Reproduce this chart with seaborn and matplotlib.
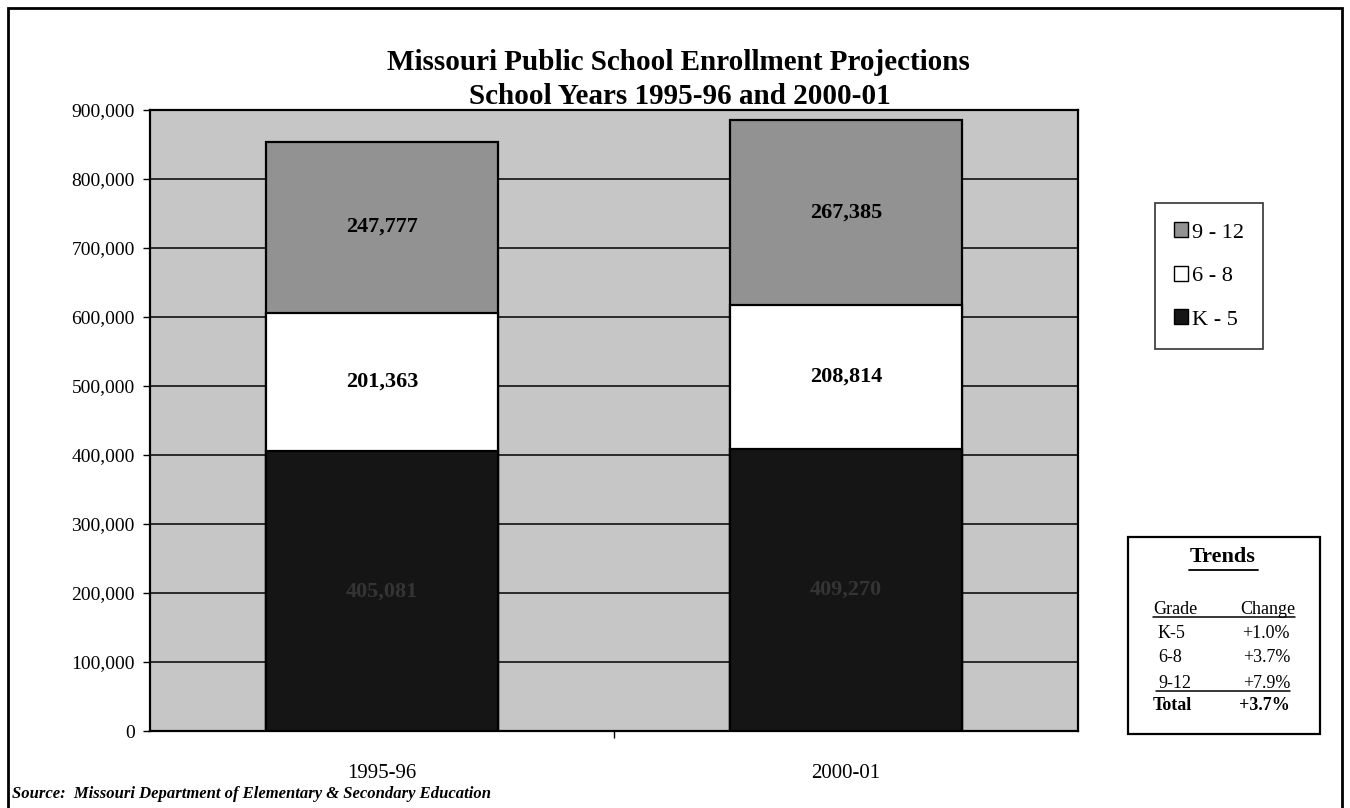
import matplotlib
matplotlib.use("Agg")
import matplotlib.pyplot as plt
import seaborn as sns
import pandas as pd
from matplotlib.patches import Rectangle, Patch
from matplotlib.lines import Line2D
from matplotlib.ticker import FuncFormatter, MultipleLocator

# Enrollment by grade band
years = ["1995-96", "2000-01"]
k5 = [405081, 409270]
g6_8 = [201363, 208814]
g9_12 = [247777, 267385]

trend_grades = ["K-5", "6-8", "9-12"]
trend_changes = ["+1.0%", "+3.7%", "+7.9%"]
trend_total = "+3.7%"

sns.set_theme(style="white")
plt.rcParams["font.family"] = ["Liberation Serif", "DejaVu Serif"]
plt.rcParams["text.color"] = "black"
plt.rcParams["xtick.color"] = "black"
plt.rcParams["ytick.color"] = "black"

BG = "#c6c6c6"
C_912 = "#929292"
C_68 = "#ffffff"
C_K5 = "#151515"

df = pd.DataFrame({"year": years, "k5": k5, "g6_8": g6_8, "g9_12": g9_12})
df["lvl1"] = df["k5"]
df["lvl2"] = df["k5"] + df["g6_8"]
df["lvl3"] = df["lvl2"] + df["g9_12"]

W, H = 1350, 808
fig = plt.figure(figsize=(W / 100, H / 100), dpi=100)
ax = fig.add_axes([150 / W, 1 - 731 / H, (1078 - 150) / W, (731 - 110) / H])
ax.set_facecolor(BG)

# stacked bars: draw cumulative totals from the top layer down
for col, color in [("lvl3", C_912), ("lvl2", C_68), ("lvl1", C_K5)]:
    sns.barplot(data=df, x="year", y=col, color=color, width=0.5,
                edgecolor="black", linewidth=1.6, saturation=1, ax=ax, zorder=3)

ax.set_ylim(0, 900000)
ax.set_xlim(-0.5, 1.5)
ax.yaxis.set_major_locator(MultipleLocator(100000))
ax.yaxis.set_major_formatter(FuncFormatter(lambda v, p: f"{int(v):,}"))
ax.grid(axis="y", color="black", linewidth=1.1, zorder=0)
ax.set_axisbelow(True)
ax.set_xlabel("")
ax.set_ylabel("")
for s in ax.spines.values():
    s.set_color("black")
    s.set_linewidth(1.6)
ax.tick_params(axis="y", which="major", left=True, length=5, width=1, color="black",
               labelsize=14, pad=6, labelcolor="black")
ax.tick_params(axis="x", which="major", length=0, labelsize=15, pad=24, labelcolor="black")
ax.set_xticks([0.5], minor=True)
ax.tick_params(axis="x", which="minor", bottom=True, length=5, width=1, color="black")

# segment value labels
for i in range(len(years)):
    ax.text(i, df["lvl2"][i] + df["g9_12"][i] / 2, f"{df['g9_12'][i]:,}",
            ha="center", va="center", fontsize=16, fontweight="bold", color="black", zorder=5)
    ax.text(i, df["lvl1"][i] + df["g6_8"][i] / 2, f"{df['g6_8'][i]:,}",
            ha="center", va="center", fontsize=16, fontweight="bold", color="black", zorder=5)
    ax.text(i, df["k5"][i] / 2, f"{df['k5'][i]:,}",
            ha="center", va="center", fontsize=16, fontweight="bold", color="#343434", zorder=5)

# title
fig.text(678 / W, 1 - 62 / H, "Missouri Public School Enrollment Projections",
         ha="center", va="center", fontsize=21, fontweight="bold")
fig.text(680 / W, 1 - 97 / H, "School Years 1995-96 and 2000-01",
         ha="center", va="center", fontsize=21, fontweight="bold")

# legend
handles = [Patch(facecolor=C_912, edgecolor="black", label="9 - 12"),
           Patch(facecolor=C_68, edgecolor="black", label="6 - 8"),
           Patch(facecolor=C_K5, edgecolor="black", label="K - 5")]
leg = fig.legend(handles=handles, loc="center", bbox_to_anchor=(1209 / W, 1 - 276 / H),
                 frameon=True, fontsize=16, handlelength=0.65, handleheight=0.65,
                 handletextpad=0.2, labelspacing=1.05, borderpad=0.85, borderaxespad=0,
                 fancybox=False)
leg.get_frame().set_edgecolor("black")
leg.get_frame().set_linewidth(1.2)

# trends box
fig.patches.append(Rectangle((1128 / W, 1 - 734 / H), (1320 - 1128) / W, (734 - 537) / H,
                             transform=fig.transFigure, fill=False, edgecolor="black",
                             linewidth=1.6))
fig.text(1223 / W, 1 - 557 / H, "Trends", ha="center", va="center",
         fontsize=16, fontweight="bold")
fig.lines.append(Line2D([1189 / W, 1258 / W], [1 - 570 / H, 1 - 570 / H],
                        transform=fig.transFigure, color="black", linewidth=1.3))
fig.text(1153 / W, 1 - 609 / H, "Grade", ha="left", va="center", fontsize=13)
fig.text(1295 / W, 1 - 609 / H, "Change", ha="right", va="center", fontsize=13)
fig.lines.append(Line2D([1153 / W, 1295 / W], [1 - 617 / H, 1 - 617 / H],
                        transform=fig.transFigure, color="black", linewidth=1.1))
row_y = [633, 658, 683]
for g, c, y in zip(trend_grades, trend_changes, row_y):
    fig.text(1158 / W, 1 - y / H, g, ha="left", va="center", fontsize=13)
    fig.text(1290 / W, 1 - y / H, c, ha="right", va="center", fontsize=13)
fig.lines.append(Line2D([1156 / W, 1290 / W], [1 - 691 / H, 1 - 691 / H],
                        transform=fig.transFigure, color="black", linewidth=1.1))
fig.text(1153 / W, 1 - 706 / H, "Total", ha="left", va="center", fontsize=13,
         fontweight="bold")
fig.text(1290 / W, 1 - 706 / H, trend_total, ha="right", va="center", fontsize=13,
         fontweight="bold")

# source note
fig.text(12 / W, 1 - 794 / H,
         "Source:  Missouri Department of Elementary & Secondary Education",
         ha="left", va="center", fontsize=12, fontstyle="italic", fontweight="bold")

# outer frame
fig.patches.append(Rectangle((8 / W, -0.02), (1342 - 8) / W, 1.02 - 8 / H,
                             transform=fig.transFigure, fill=False, edgecolor="black",
                             linewidth=2))

fig.savefig("out.png", dpi=100)
